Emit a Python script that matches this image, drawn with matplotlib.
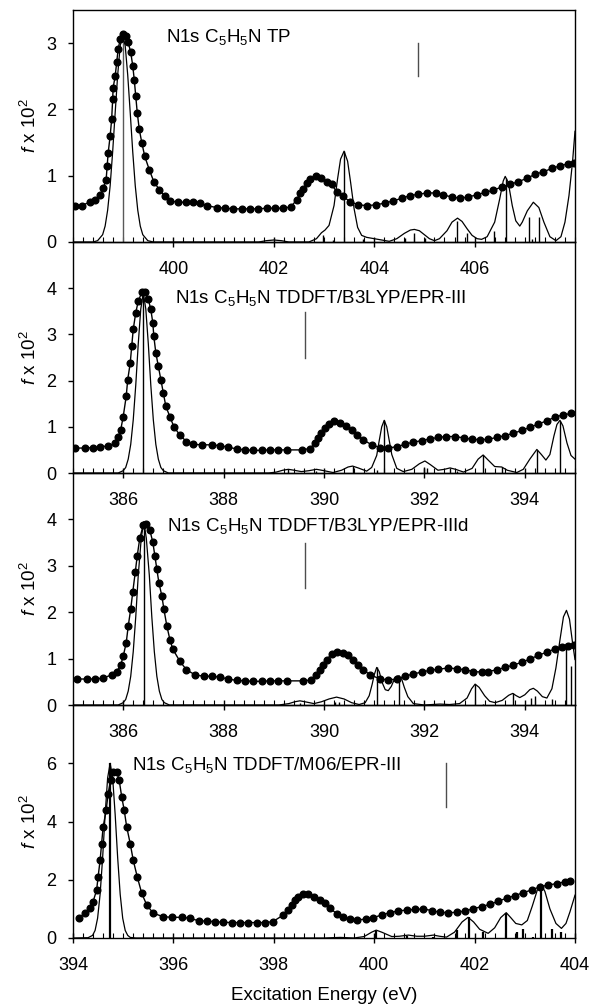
import numpy as np
import matplotlib
matplotlib.use('Agg')
import matplotlib.pyplot as plt
from matplotlib.ticker import MultipleLocator, FixedLocator

plt.rcParams['font.family'] = ['Liberation Sans', 'DejaVu Sans']
plt.rcParams['mathtext.fontset'] = 'custom'
plt.rcParams['mathtext.rm'] = 'Liberation Sans'
plt.rcParams['mathtext.it'] = 'Liberation Sans:italic'

# %% Daten: Panel 1, TP (398-408 eV)

tp_exp_e = [398.04, 398.17, 398.33, 398.44, 398.54, 398.60, 398.66, 398.68, 398.70, 398.74, 398.77, 398.79, 398.80, 398.84, 398.87, 398.90, 398.94, 398.99,
            399.06, 399.10, 399.15, 399.19, 399.22, 399.25, 399.28, 399.32, 399.37, 399.43, 399.52, 399.61, 399.72, 399.83, 399.93,
            400.10, 400.26, 400.40, 400.53, 400.66, 400.86, 401.03, 401.19, 401.36, 401.52, 401.69, 401.86,
            402.02, 402.19, 402.34, 402.46, 402.52, 402.59, 402.67, 402.73, 402.84, 402.95,
            403.05, 403.15, 403.25, 403.37, 403.52, 403.68, 403.85, 404.04, 404.22, 404.38, 404.55, 404.71, 404.88,
            405.05, 405.24, 405.38, 405.54, 405.71, 405.87, 406.04, 406.21, 406.37, 406.54, 406.71, 406.87,
            407.04, 407.20, 407.37, 407.54, 407.70, 407.87, 407.98]
tp_exp_f = [0.55, 0.55, 0.60, 0.64, 0.71, 0.81, 0.94, 1.14, 1.34, 1.60, 1.85, 2.15, 2.33, 2.50, 2.71, 2.91, 3.06, 3.14,
            3.11, 3.01, 2.86, 2.66, 2.45, 2.20, 1.95, 1.70, 1.50, 1.29, 1.09, 0.91, 0.79, 0.69, 0.62,
            0.60, 0.60, 0.61, 0.59, 0.55, 0.52, 0.51, 0.50, 0.50, 0.50, 0.50, 0.51,
            0.51, 0.51, 0.53, 0.64, 0.74, 0.80, 0.89, 0.95, 0.99, 0.97,
            0.91, 0.87, 0.76, 0.69, 0.61, 0.56, 0.55, 0.56, 0.59, 0.62, 0.66, 0.70, 0.72,
            0.74, 0.74, 0.71, 0.68, 0.66, 0.68, 0.71, 0.75, 0.78, 0.83, 0.87, 0.91,
            0.96, 1.02, 1.06, 1.11, 1.15, 1.18, 1.19]

tp_sim_e = [398.0, 398.4, 398.49, 398.59, 398.64, 398.69, 398.74, 398.79, 398.84, 398.89, 398.94, 398.99, 399.04, 399.09,
            399.14, 399.19, 399.24, 399.29, 399.34, 399.39, 399.49, 399.6, 401.7, 401.85, 402.0, 402.15, 402.3,
            402.7, 402.85, 402.95, 403.02, 403.1, 403.2, 403.27, 403.33, 403.4, 403.47, 403.53, 403.6, 403.67, 403.75, 403.85,
            404.0, 404.15, 404.3, 404.45, 404.6, 404.72, 404.8, 404.9,
            405.0, 405.1, 405.2, 405.3, 405.45, 405.55, 405.66, 405.75, 405.85, 405.95,
            406.05, 406.14, 406.25, 406.4, 406.5, 406.57, 406.61, 406.67, 406.75, 406.82, 406.9, 406.95,
            407.05, 407.17, 407.28, 407.38, 407.5, 407.62, 407.72, 407.8, 407.88, 407.95, 408.0]
tp_sim_f = [0, 0, 0.02, 0.11, 0.24, 0.48, 0.85, 1.36, 1.95, 2.52, 2.96, 3.12, 2.96, 2.52,
            1.95, 1.36, 0.85, 0.48, 0.24, 0.11, 0.02, 0, 0, 0.02, 0.03, 0.02, 0,
            0, 0.05, 0.14, 0.18, 0.25, 0.55, 0.95, 1.25, 1.37, 1.22, 0.9, 0.5, 0.22, 0.1, 0.07,
            0.05, 0.03, 0.01, 0.05, 0.13, 0.18, 0.19, 0.17,
            0.11, 0.05, 0.02, 0.05, 0.17, 0.3, 0.36, 0.31, 0.2, 0.1,
            0.05, 0.04, 0.08, 0.3, 0.65, 0.92, 0.99, 0.9, 0.55, 0.32, 0.24, 0.3,
            0.47, 0.6, 0.52, 0.3, 0.08, 0.02, 0.08, 0.3, 0.7, 1.2, 1.67]

tp_stick_e = [398.99, 402.99, 403.17, 403.40, 403.77, 404.61, 404.80, 405.01, 405.65, 405.85, 406.38, 406.62, 407.09, 407.14, 407.29]
tp_stick_f = [3.12, 0.10, 0.03, 1.37, 0.04, 0.06, 0.14, 0.06, 0.32, 0.14, 0.16, 0.97, 0.37, 0.05, 0.38]

# %% Daten: Panel 2, TDDFT/B3LYP/EPR-III (385-395 eV)

b3_exp_e = [385.04, 385.24, 385.40, 385.54, 385.70, 385.84, 385.90, 385.95,
            386.00, 386.06, 386.09, 386.14, 386.17, 386.20, 386.25, 386.30, 386.37, 386.43, 386.50, 386.55, 386.59, 386.61,
            386.65, 386.70, 386.75, 386.80, 386.85, 386.93,
            387.01, 387.13, 387.26, 387.40, 387.56, 387.76, 387.93, 388.09, 388.26, 388.43, 388.59, 388.76, 388.92,
            389.09, 389.26, 389.56, 389.72, 389.82, 389.89, 389.95, 390.02, 390.09, 390.20, 390.32, 390.44, 390.55,
            390.65, 390.78, 390.95, 391.12, 391.28, 391.45, 391.61, 391.78, 391.95, 392.11, 392.28, 392.44, 392.61,
            392.78, 392.94, 393.11, 393.27, 393.44, 393.61, 393.77, 393.94, 394.10, 394.27, 394.44, 394.60, 394.77, 394.93]
b3_exp_f = [0.54, 0.54, 0.55, 0.56, 0.59, 0.64, 0.79, 0.93,
            1.22, 1.66, 2.02, 2.38, 2.75, 3.11, 3.47, 3.72, 3.91, 3.91, 3.76, 3.54, 3.25, 2.96,
            2.60, 2.31, 2.02, 1.73, 1.44, 1.22,
            1.00, 0.82, 0.68, 0.62, 0.61, 0.61, 0.59, 0.56, 0.52, 0.50, 0.49, 0.49, 0.50,
            0.50, 0.50, 0.50, 0.53, 0.65, 0.75, 0.86, 0.97, 1.07, 1.13, 1.09, 1.02, 0.92,
            0.83, 0.72, 0.61, 0.55, 0.54, 0.57, 0.62, 0.67, 0.70, 0.74, 0.77, 0.79, 0.79,
            0.76, 0.73, 0.72, 0.73, 0.77, 0.81, 0.86, 0.92, 0.99, 1.06, 1.13, 1.21, 1.26, 1.29]

b3_sim_e = [385.0, 385.9, 386.0, 386.05, 386.1, 386.15, 386.2, 386.25, 386.3, 386.35, 386.4, 386.45, 386.5, 386.55,
            386.6, 386.65, 386.7, 386.75, 386.8, 386.9,
            388.9, 389.05, 389.18, 389.29, 389.4, 389.55, 389.7, 389.85,
            390.0, 390.18, 390.35, 390.48, 390.57, 390.68, 390.85, 390.95,
            391.05, 391.1, 391.15, 391.2, 391.25, 391.3, 391.35, 391.45, 391.58, 391.75, 391.9,
            392.01, 392.12, 392.27, 392.4, 392.51, 392.62, 392.78, 392.95,
            393.07, 393.17, 393.27, 393.4, 393.54, 393.65, 393.84, 393.97,
            394.1, 394.24, 394.33, 394.42, 394.5, 394.58, 394.64, 394.7, 394.76, 394.84, 394.92, 395.0]
b3_sim_f = [0, 0, 0.05, 0.12, 0.3, 0.62, 1.15, 1.9, 2.8, 3.55, 3.9, 3.55, 2.8, 1.9,
            1.15, 0.62, 0.3, 0.12, 0.05, 0,
            0, 0.02, 0.06, 0.08, 0.06, 0.03, 0.05, 0.08,
            0.05, 0.01, 0.06, 0.13, 0.15, 0.11, 0.04, 0.12,
            0.38, 0.7, 1.0, 1.14, 1.0, 0.7, 0.4, 0.1, 0.03, 0.08, 0.2,
            0.26, 0.18, 0.06, 0.08, 0.11, 0.08, 0.02, 0.1,
            0.3, 0.39, 0.28, 0.14, 0.13, 0.06, 0.01, 0.08,
            0.3, 0.51, 0.4, 0.28, 0.4, 0.8, 1.05, 1.14, 1.02, 0.65, 0.38, 0.3]

b3_stick_e = [386.40, 389.29, 389.85, 390.57, 391.05, 391.20, 391.99, 392.05, 392.51, 392.64, 393.17, 393.54, 394.24, 394.70]
b3_stick_f = [3.9, 0.08, 0.05, 0.15, 0.06, 1.14, 0.13, 0.10, 0.10, 0.05, 0.39, 0.13, 0.50, 1.13]

# %% Daten: Panel 3, TDDFT/B3LYP/EPR-IIId (385-395 eV)

b3d_exp_e = [385.07, 385.27, 385.44, 385.60, 385.77, 385.87, 385.95,
             386.00, 386.06, 386.10, 386.15, 386.19, 386.24, 386.28, 386.33, 386.40, 386.46, 386.53, 386.59, 386.63, 386.67,
             386.71, 386.77, 386.81, 386.87, 386.93, 386.99,
             387.13, 387.26, 387.43, 387.60, 387.76, 387.93, 388.09, 388.26, 388.43, 388.59, 388.76, 388.92,
             389.09, 389.26, 389.59, 389.75, 389.85, 389.92, 389.99,
             390.05, 390.15, 390.25, 390.37, 390.48, 390.58, 390.68, 390.78, 390.92,
             391.12, 391.28, 391.45, 391.61, 391.78, 391.95, 392.11, 392.28, 392.48, 392.64, 392.81, 392.97,
             393.14, 393.27, 393.44, 393.61, 393.77, 393.94, 394.10, 394.27, 394.44, 394.60, 394.74, 394.87, 394.98]
b3d_exp_f = [0.56, 0.56, 0.56, 0.58, 0.65, 0.72, 0.86,
             1.05, 1.34, 1.70, 2.07, 2.43, 2.86, 3.22, 3.59, 3.88, 3.91, 3.77, 3.51, 3.22, 2.93,
             2.64, 2.35, 2.07, 1.70, 1.41, 1.20,
             0.94, 0.76, 0.65, 0.62, 0.62, 0.60, 0.56, 0.53, 0.52, 0.51, 0.51, 0.52,
             0.52, 0.52, 0.52, 0.54, 0.65, 0.76, 0.87,
             0.98, 1.09, 1.14, 1.12, 1.07, 0.98, 0.87, 0.76, 0.65,
             0.56, 0.54, 0.56, 0.62, 0.67, 0.71, 0.75, 0.77, 0.80, 0.78, 0.76, 0.72,
             0.71, 0.72, 0.76, 0.81, 0.86, 0.92, 0.99, 1.07, 1.14, 1.21, 1.25, 1.28, 1.30]

b3d_sim_e = [385.0, 385.9, 386.0, 386.05, 386.1, 386.15, 386.2, 386.25, 386.3, 386.36, 386.41, 386.46, 386.52, 386.57,
             386.62, 386.67, 386.72, 386.77, 386.82, 386.92,
             389.1, 389.3, 389.42, 389.52, 389.62, 389.8, 389.95,
             390.1, 390.25, 390.4, 390.55, 390.7, 390.82, 390.9, 390.96,
             391.0, 391.05, 391.1, 391.16, 391.22, 391.28, 391.34, 391.4, 391.45, 391.5, 391.55, 391.6, 391.67, 391.78,
             392.0, 392.15, 392.31, 392.5, 392.7, 392.85, 392.94,
             393.01, 393.09, 393.2, 393.3, 393.41, 393.55, 393.68, 393.76, 393.83, 393.9,
             394.0, 394.1, 394.17, 394.25, 394.35, 394.44, 394.54, 394.62, 394.7, 394.77, 394.83, 394.89, 394.95, 395.0]
b3d_sim_f = [0, 0, 0.05, 0.12, 0.3, 0.62, 1.15, 1.9, 2.8, 3.6, 3.95, 3.6, 2.8, 1.9,
             1.15, 0.62, 0.3, 0.12, 0.05, 0,
             0, 0.03, 0.07, 0.09, 0.07, 0.03, 0.07,
             0.13, 0.17, 0.13, 0.05, 0.01, 0.05, 0.2, 0.45,
             0.65, 0.81, 0.72, 0.48, 0.33, 0.31, 0.4, 0.55, 0.62, 0.63, 0.55, 0.38, 0.18, 0.03,
             0.0, 0.01, 0.02, 0.01, 0.03, 0.15, 0.35,
             0.45, 0.38, 0.2, 0.08, 0.05, 0.1, 0.21, 0.25, 0.2, 0.16,
             0.22, 0.33, 0.36, 0.3, 0.18, 0.15, 0.35, 0.8, 1.4, 1.9, 2.04, 1.85, 1.35, 0.98]

b3d_stick_e = [386.41, 389.52, 390.22, 390.29, 391.05, 391.49, 393.01, 393.17, 393.76, 394.12, 394.20, 394.54, 394.83, 394.92]
b3d_stick_f = [3.95, 0.04, 0.07, 0.07, 0.81, 0.63, 0.45, 0.03, 0.25, 0.16, 0.20, 0.14, 1.25, 0.85]

# %% Daten: Panel 4, TDDFT/M06/EPR-III (394-404 eV)

m06_exp_e = [394.11, 394.24, 394.34, 394.40, 394.47, 394.50, 394.54, 394.57, 394.60, 394.66, 394.70, 394.75, 394.80, 394.87,
             394.92, 394.97, 395.02, 395.07, 395.14, 395.20, 395.28, 395.37, 395.47, 395.60, 395.80, 395.97,
             396.17, 396.33, 396.50, 396.66, 396.83, 396.99, 397.16, 397.33, 397.49, 397.66, 397.82, 397.98,
             398.19, 398.29, 398.36, 398.42, 398.49, 398.58, 398.69, 398.80, 398.92,
             399.02, 399.12, 399.25, 399.38, 399.52, 399.66, 399.84, 399.98,
             400.15, 400.31, 400.48, 400.65, 400.81, 400.98, 401.15, 401.31, 401.48, 401.64, 401.81, 401.97,
             402.14, 402.31, 402.47, 402.64, 402.80, 402.97, 403.14, 403.30, 403.47, 403.64, 403.80, 403.90]
m06_exp_f = [0.70, 0.85, 1.02, 1.25, 1.64, 2.10, 2.67, 3.24, 3.81, 4.38, 4.96, 5.42, 5.70, 5.70,
             5.42, 4.85, 4.39, 3.81, 3.24, 2.67, 2.10, 1.53, 1.13, 0.85, 0.73, 0.71,
             0.71, 0.68, 0.59, 0.58, 0.56, 0.54, 0.53, 0.53, 0.53, 0.53, 0.53, 0.56,
             0.79, 0.96, 1.13, 1.30, 1.42, 1.50, 1.51, 1.42, 1.30,
             1.19, 1.02, 0.84, 0.71, 0.64, 0.62, 0.65, 0.70,
             0.79, 0.87, 0.93, 0.96, 0.98, 1.00, 0.94, 0.88, 0.87, 0.88, 0.93, 1.00,
             1.08, 1.16, 1.26, 1.37, 1.45, 1.56, 1.65, 1.76, 1.82, 1.87, 1.93, 1.95]

m06_sim_e = [394.0, 394.3, 394.39, 394.44, 394.49, 394.54, 394.59, 394.64, 394.69, 394.74, 394.79, 394.84, 394.89,
             394.94, 394.99, 395.04, 395.09, 395.14, 395.25,
             399.0, 399.32, 399.6, 399.8, 399.95,
             400.04, 400.15, 400.35, 400.5, 400.68, 400.85,
             401.0, 401.18, 401.3, 401.44, 401.6, 401.75, 401.87, 401.98,
             402.1, 402.27, 402.4, 402.52, 402.63, 402.72, 402.82, 402.94,
             403.05, 403.15, 403.25, 403.32, 403.4, 403.5, 403.62, 403.73, 403.82, 403.9, 404.0]
m06_sim_f = [0, 0.01, 0.09, 0.26, 0.68, 1.5, 2.75, 4.24, 5.5, 6.0, 5.5, 4.24, 2.75,
             1.5, 0.68, 0.26, 0.09, 0.02, 0,
             0, 0.02, 0, 0.05, 0.2,
             0.27, 0.2, 0.05, 0.06, 0.1, 0.06,
             0.06, 0.1, 0.06, 0.03, 0.2, 0.55, 0.71, 0.55,
             0.3, 0.16, 0.35, 0.7, 0.87, 0.7, 0.5, 0.45,
             0.6, 1.1, 1.65, 1.85, 1.6, 1.0, 0.5, 0.33, 0.5, 0.9, 1.47]

m06_stick_e = [394.74, 400.04, 400.65, 401.18, 401.64, 401.88, 402.16, 402.63, 402.85, 402.97, 403.17, 403.32, 403.55, 403.72]
m06_stick_f = [6.0, 0.23, 0.06, 0.05, 0.26, 0.71, 0.2, 0.87, 0.22, 0.3, 0.05, 1.86, 0.32, 0.22]

# %% Panel-Einstellungen

titles = ['N1s C$_5$H$_5$N TP',
          'N1s C$_5$H$_5$N TDDFT/B3LYP/EPR-III',
          'N1s C$_5$H$_5$N TDDFT/B3LYP/EPR-IIId',
          'N1s C$_5$H$_5$N TDDFT/M06/EPR-III']
xlims = [(398, 408), (385, 395), (385, 395), (394, 404)]
xticks = [[400, 402, 404, 406], [386, 388, 390, 392, 394], [386, 388, 390, 392, 394], [394, 396, 398, 400, 402, 404]]
ylims = [(0, 3.5), (0, 5), (0, 5), (0, 8)]
yticks = [[0, 1, 2, 3], [0, 1, 2, 3, 4], [0, 1, 2, 3, 4], [0, 2, 4, 6]]
title_pos = [(399.85, 3.02), (387.03, 3.67), (386.87, 3.75), (395.17, 5.78)]
ip_pos = [(404.87, 2.5, 3.0), (389.63, 2.5, 3.48), (389.63, 2.52, 3.5), (401.44, 4.49, 6.0)]

panels = [(tp_exp_e, tp_exp_f, tp_sim_e, tp_sim_f, tp_stick_e, tp_stick_f),
          (b3_exp_e, b3_exp_f, b3_sim_e, b3_sim_f, b3_stick_e, b3_stick_f),
          (b3d_exp_e, b3d_exp_f, b3d_sim_e, b3d_sim_f, b3d_stick_e, b3d_stick_f),
          (m06_exp_e, m06_exp_f, m06_sim_e, m06_sim_f, m06_stick_e, m06_stick_f)]

# Pixelgrenzen der Achsen (Bild 592x1007)
W, H = 592, 1007
left, right = 73, 575
tops = [10, 242, 473, 705]
bottoms = [242, 473, 705, 938]

fig = plt.figure(figsize=(W/100, H/100), dpi=100)

for i, (exp_e, exp_f, sim_e, sim_f, st_e, st_f) in enumerate(panels):
    ax = fig.add_axes([left/W, 1 - bottoms[i]/H, (right-left)/W, (bottoms[i]-tops[i])/H])
    ax.set_facecolor('none')

    stick_lw = 1.6 if i == 3 else 1.0
    stick_col = ['0.35' if (i == 0 and k == 0) else 'k' for k in range(len(st_e))]
    ax.vlines(st_e, 0, st_f, colors=stick_col, lw=stick_lw)
    ax.plot(sim_e, sim_f, color='k', lw=0.9)
    ax.plot(exp_e, exp_f, color='k', lw=1.0, marker='o', ms=4.8, mfc='k', mec='k')

    x_ip, y0, y1 = ip_pos[i]
    ax.plot([x_ip, x_ip], [y0, y1], color='0.3', lw=1.0)
    ax.text(title_pos[i][0], title_pos[i][1], titles[i], fontsize=13.5, va='baseline', ha='left')

    ax.set_xlim(*xlims[i])
    ax.set_ylim(*ylims[i])
    ax.xaxis.set_major_locator(FixedLocator(xticks[i]))
    ax.xaxis.set_minor_locator(MultipleLocator(0.2))
    ax.set_yticks(yticks[i])
    ax.tick_params(axis='x', which='major', direction='inout', length=7, width=1.0, labelsize=13, pad=10.5)
    ax.tick_params(axis='x', which='minor', direction='in', length=3.5, width=0.8)
    ax.tick_params(axis='y', which='major', direction='out', length=3.6, width=1.0, labelsize=13, pad=8.5)
    ax.tick_params(top=False, right=False)
    for sp in ax.spines.values():
        sp.set_linewidth(1.0)

    yc = 1 - (tops[i] + bottoms[i]) / 2 / H
    fig.text(30/W, yc, '$f$ x 10$^2$', rotation=90, ha='center', va='center', fontsize=13.5)

fig.text(324/W, 1 - 995/H, 'Excitation Energy (eV)', ha='center', va='center', fontsize=13.5)

fig.savefig('out.png', dpi=100)
